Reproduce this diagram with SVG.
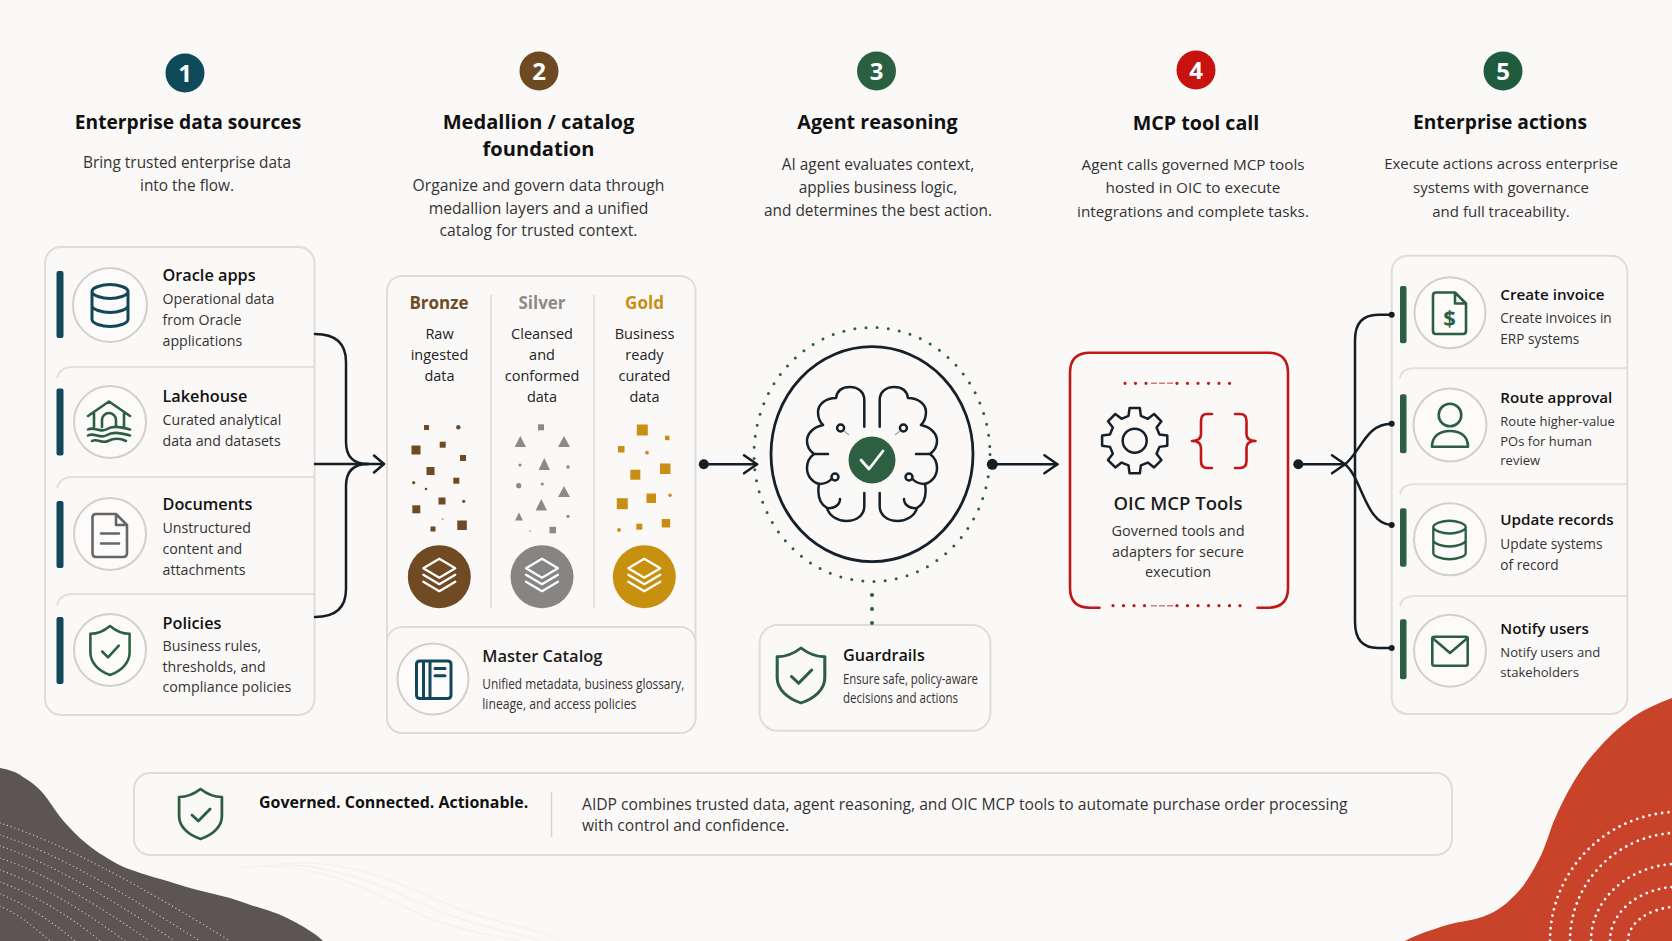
<svg xmlns="http://www.w3.org/2000/svg" xmlns:xlink="http://www.w3.org/1999/xlink" width="1672" height="941" viewBox="0 0 1672 941">
<style>
text{font-family:"Open Sans","Noto Sans","Liberation Sans",sans-serif;fill:#1c1c1c}
.num{font-size:24px;font-weight:700;fill:#fff;text-anchor:middle}
.h{font-size:19.700px;font-weight:700;fill:#111;text-anchor:middle}
.sub{font-size:15.400px;fill:#333;text-anchor:middle}
#step-1 .h,#step-5 .h{font-size:19.200px}
#step-2 .h{font-size:20.100px}
#step-2 .sub{font-size:15.700px}
#step-4 .sub{font-size:15.300px}
#step-5 .sub{font-size:15px}
#oic-tools .sub{font-size:14.500px}
#summary .sub{font-size:15.650px}
.t{font-size:15.200px;font-weight:600;fill:#111}
.b{font-size:14.200px;fill:#333}
#sources~g[id^="src"] .t{font-size:16.300px}
#guardrails .t{font-size:16.200px}
#summary .t{font-size:15.950px;font-weight:700}
#act-invoice .b{font-size:13.600px}
#act-approval .b{font-size:13px}
#act-update .b{font-size:13.700px}
#act-notify .b{font-size:13.100px}
.panel{fill:#fbf9f8;stroke:#dfdcd9;stroke-width:2}
.sep{fill:none;stroke:#e3e0dd;stroke-width:2}
.ring{fill:#fcfbfa;stroke:#d2d0cd;stroke-width:2}
.blue{fill:none;stroke:#12475a;stroke-width:3;stroke-linecap:round;stroke-linejoin:round}
.green{fill:none;stroke:#2c5f42;stroke-width:2.600;stroke-linecap:round;stroke-linejoin:round}
.gray{fill:none;stroke:#666;stroke-width:2.600;stroke-linecap:round;stroke-linejoin:round}
.wire{fill:none;stroke:#151d26;stroke-width:2.500;stroke-linecap:round}
.ink{fill:none;stroke:#15202a;stroke-width:2.500;stroke-linecap:round;stroke-linejoin:round}
.red{fill:none;stroke:#c01818;stroke-width:2.600;stroke-linecap:round;stroke-linejoin:round}
.stack{fill:none;stroke:#fff;stroke-width:2.200;stroke-linejoin:round;stroke-linecap:round}
.med{font-size:17px;font-weight:700;text-anchor:middle}
.mb{font-size:14.500px;fill:#222;text-anchor:middle}
.wd{fill:none;stroke:#fff;stroke-width:1.300;stroke-linecap:round;stroke-dasharray:0 4;opacity:.7}
.rd{fill:none;stroke:#fff;stroke-width:2.800;stroke-linecap:round;stroke-dasharray:0 6.400}
.br{fill:#6f4a22}.si{fill:#8c8a88}.go{fill:#c98f14}
</style>
<defs>
<marker id="open" markerUnits="userSpaceOnUse" markerWidth="18" markerHeight="24" refX="15" refY="12" orient="auto"><path d="M2 3 L15 12 L2 21" fill="none" stroke="#151d26" stroke-width="2.500" stroke-linecap="round" stroke-linejoin="round"/></marker>
<marker id="open-small" markerUnits="userSpaceOnUse" markerWidth="18" markerHeight="24" refX="15" refY="12" orient="auto"><path d="M5 3.500 L15 12 L5 20.500" fill="none" stroke="#151d26" stroke-width="2.500" stroke-linecap="round" stroke-linejoin="round"/></marker>
<path id="shield" d="M0 -25C6 -20 13 -17 20 -17V2C20 13 11 21 0 25C-11 21 -20 13 -20 2V-17C-13 -17 -6 -20 0 -25ZM-8 1L-2 7L9 -5"/>
<path id="cyl" d="M-18 -14V14C-18 18 -8 21 0 21S18 18 18 14V-14M-18 -14C-18 -18 -8 -21 0 -21S18 -18 18 -14S8 -7 0 -7S-18 -10 -18 -14ZM-18 0C-18 4 -8 7 0 7S18 4 18 0"/>
<g id="layers"><path class="stack" d="M0 -18L16 -8.500L0 1L-16 -8.500Z"/><path class="stack" d="M-16 -2L0 7.500L16 -2"/><path class="stack" d="M-16 5L0 14.500L16 5"/></g>
<g id="lobe"><path class="ink" d="M-7.700 426.700V400C-7.700 392 -14 387 -22 387C-30 387 -35 391 -36 398C-46 398 -54 404 -54 412C-54 418 -52 422 -49 425C-58 427 -65 433 -65 441C-65 447 -62 451 -58 454C-62 457 -65 462 -65 468C-65 476 -60 482 -53 484C-55 496 -52 504 -45 508C-43 516 -34 521 -26 521C-15 521 -7.700 515 -7.700 506V493"/><path class="ink" d="M-44 454H-59M-40.500 479C-44 483 -48 484 -53 484M-32 499C-32 505 -38 509 -45 508"/><circle class="ink" cx="-37" cy="477" r="3.500"/><circle class="ink" cx="-31.400" cy="428" r="3.500"/><path d="M-28 431L-23 435" stroke="#aaa" stroke-width="1.500"/></g>
<clipPath id="grayclip"><path d="M0 768C10 770 17 772 23 777C33 783 40 789 46 797C54 808 60 818 69 827C76 835 84 842 92 848C102 855 114 863 126 868C144 875 162 879 180 885C202 892 224 895 245 903C262 909 277 912 291 920C304 927 315 933 323 941H0Z"/></clipPath>
</defs>

<rect width="1672" height="941" fill="#fbf9f8"/>

<!-- faint background contour lines -->
<g fill="none" stroke="#f3f1ef" stroke-width="1.200">
<path d="M240 868C300 860 350 880 400 905S490 935 520 941"/>
<path d="M260 866C320 860 370 880 420 903S500 928 540 941"/>
<path d="M280 864C340 858 390 878 440 901S520 922 560 941"/>
</g>

<!-- corner shapes -->
<g id="corner-gray">
<path d="M0 768C10 770 17 772 23 777C33 783 40 789 46 797C54 808 60 818 69 827C76 835 84 842 92 848C102 855 114 863 126 868C144 875 162 879 180 885C202 892 224 895 245 903C262 909 277 912 291 920C304 927 315 933 323 941H0Z" fill="#5b5653"/>
<g clip-path="url(#grayclip)">
<path class="wd" d="M0 823C60 842 140 885 230 941"/><path class="wd" d="M0 835C60 854 130 897 200 941"/><path class="wd" d="M0 846C55 864 120 905 175 941"/><path class="wd" d="M0 858C50 875 105 910 150 941"/><path class="wd" d="M0 870C45 886 90 915 125 941"/><path class="wd" d="M0 882C40 897 75 920 100 941"/><path class="wd" d="M0 894C30 906 55 924 75 941"/><path class="wd" d="M0 906C20 915 35 928 50 941"/>
</g>
</g>
<g id="corner-red">
<path d="M1672 698C1658 703 1645 709 1633 717C1619 727 1607 738 1597 750C1587 761 1580 771 1573 783C1565 796 1559 809 1553 823C1548 837 1544 851 1537 863C1530 876 1523 888 1513 897C1505 905 1497 911 1487 915C1474 921 1460 921 1447 925C1431 930 1418 934 1405 941H1672Z" fill="#c8432a"/>
<path class="rd" d="M1550 941A130 129 0 0 1 1672 812"/><path class="rd" d="M1570 941A110 108 0 0 1 1672 833"/><path class="rd" d="M1591 941A89 77 0 0 1 1672 864"/><path class="rd" d="M1610 941A70 54 0 0 1 1672 887"/><path class="rd" d="M1628 941A52 34 0 0 1 1672 907"/>
</g>

<!-- step headers -->
<g id="step-1"><circle cx="185" cy="73" r="19.500" fill="#0f4a5a"/><text class="num" x="185" y="82">1</text><text class="h" x="188" y="129">Enterprise data sources</text><text class="sub" x="187" y="168">Bring trusted enterprise data</text><text class="sub" x="187" y="191">into the flow.</text></g>
<g id="step-2"><circle cx="539" cy="71" r="19.500" fill="#6d4a22"/><text class="num" x="539" y="80">2</text><text class="h" x="538.500" y="129">Medallion / catalog</text><text class="h" x="538.500" y="156">foundation</text><text class="sub" x="538.500" y="191">Organize and govern data through</text><text class="sub" x="538.500" y="214">medallion layers and a unified</text><text class="sub" x="538.500" y="236">catalog for trusted context.</text></g>
<g id="step-3"><circle cx="876.500" cy="71" r="19.500" fill="#2a6041"/><text class="num" x="876.500" y="80">3</text><text class="h" x="877.500" y="129">Agent reasoning</text><text class="sub" x="878" y="170">AI agent evaluates context,</text><text class="sub" x="878" y="193">applies business logic,</text><text class="sub" x="878" y="216">and determines the best action.</text></g>
<g id="step-4"><circle cx="1196" cy="70" r="19.500" fill="#c8120f"/><text class="num" x="1196" y="79">4</text><text class="h" x="1196" y="130">MCP tool call</text><text class="sub" x="1193" y="170">Agent calls governed MCP tools</text><text class="sub" x="1193" y="193">hosted in OIC to execute</text><text class="sub" x="1193" y="217">integrations and complete tasks.</text></g>
<g id="step-5"><circle cx="1503" cy="71" r="19.500" fill="#1f5c3f"/><text class="num" x="1503" y="80">5</text><text class="h" x="1500" y="129">Enterprise actions</text><text class="sub" x="1501" y="169">Execute actions across enterprise</text><text class="sub" x="1501" y="193">systems with governance</text><text class="sub" x="1501" y="217">and full traceability.</text></g>

<!-- data sources -->
<g id="sources">
<rect class="panel" x="45" y="247" width="269.500" height="468" rx="16"/>
<path class="sep" d="M57 378Q60 367 72 367H314M57 488Q60 477 72 477H314M57 605Q60 594 72 594H314"/>
<g fill="#12475a"><rect x="56.500" y="271" width="7" height="67" rx="2"/><rect x="56.500" y="388.500" width="7" height="67" rx="2"/><rect x="56.500" y="501" width="7" height="67" rx="2"/><rect x="56.500" y="617" width="7" height="67" rx="2"/></g>
</g>
<g id="src-oracle"><circle class="ring" cx="110" cy="305" r="37"/><use href="#cyl" class="blue" transform="translate(110 305.500)"/><text class="t" x="162.500" y="281">Oracle apps</text><text class="b" x="162.500" y="304">Operational data</text><text class="b" x="162.500" y="324.500">from Oracle</text><text class="b" x="162.500" y="345.500">applications</text></g>
<g id="src-lakehouse"><circle class="ring" cx="110" cy="422" r="36"/><path class="green" d="M88 416L109 401.500L130 416M94 413V427M124 413V427M102 427V420A7 7 0 0 1 116 420V427M88 429.500C94 426 100 433 106 429.500S118 426 130 429.500M88 435.500C94 432 100 439 106 435.500S118 432 130 435.500M92 441C97 438 102 444 108 441S120 438 126 441"/><text class="t" x="162.500" y="402">Lakehouse</text><text class="b" x="162.500" y="425">Curated analytical</text><text class="b" x="162.500" y="445.500">data and datasets</text></g>
<g id="src-documents"><circle class="ring" cx="110" cy="534" r="36"/><path class="gray" d="M116 514H96Q92.500 514 92.500 518V553Q92.500 557 96 557H123Q127 557 127 553V525ZM116 514V525H127M101 533.500H119M101 543.500H119"/><text class="t" x="162.500" y="510">Documents</text><text class="b" x="162.500" y="533">Unstructured</text><text class="b" x="162.500" y="553.500">content and</text><text class="b" x="162.500" y="574.500">attachments</text></g>
<g id="src-policies"><circle class="ring" cx="110" cy="650" r="36"/><use href="#shield" class="green" transform="translate(110 650.500) scale(.98)"/><text class="t" x="162.500" y="628.500">Policies</text><text class="b" x="162.500" y="651">Business rules,</text><text class="b" x="162.500" y="671.500">thresholds, and</text><text class="b" x="162.500" y="692">compliance policies</text></g>

<!-- medallion layers and catalog -->
<g id="medallion">
<rect class="panel" x="387" y="276" width="308.500" height="457" rx="15"/>
<path d="M491 295V608M594 295V608" stroke="#e0dedb" stroke-width="1.600"/>
</g>
<g id="bronze"><text class="med" x="439" y="309" style="fill:#6f4a22">Bronze</text><text class="mb" x="439.500" y="339">Raw</text><text class="mb" x="439.500" y="360">ingested</text><text class="mb" x="439.500" y="381">data</text>
<g class="br"><rect x="424" y="425" width="5" height="5"/><circle cx="458.300" cy="427.300" r="2.200"/><rect x="411.500" y="445.500" width="9" height="9"/><rect x="439.700" y="441.700" width="6" height="6"/><rect x="460" y="455" width="6" height="6"/><rect x="426.500" y="467" width="8" height="8"/><rect x="453.300" y="477.700" width="6" height="6"/><circle cx="413.700" cy="482.700" r="1.600"/><circle cx="426" cy="489" r="1.300"/><rect x="438.500" y="497.500" width="7" height="7"/><rect x="412.300" y="505.300" width="8" height="8"/><circle cx="463.700" cy="501.300" r="1.600"/><circle cx="442.700" cy="519" r="1" opacity=".5"/><rect x="430.500" y="526.500" width="5" height="5"/><rect x="457.300" y="520.500" width="9.500" height="9.500"/></g>
<circle cx="439.300" cy="576.700" r="31.500" fill="#6f4a22"/><use href="#layers" x="439.300" y="576.700"/></g>
<g id="silver"><text class="med" x="542" y="309" style="fill:#8c8a88">Silver</text><text class="mb" x="542" y="339">Cleansed</text><text class="mb" x="542" y="360">and</text><text class="mb" x="542" y="381">conformed</text><text class="mb" x="542" y="402">data</text>
<g class="si"><rect x="538" y="424.300" width="6" height="6"/><path d="M520.300 436L526 447H514.600ZM564 436L570 447H558ZM544.300 458L550 470H538.600ZM564 486L570 497H558ZM541.300 499L547 510.500H535.600ZM519 512.500L523 520.500H515Z"/><circle cx="520" cy="465" r="1.600"/><circle cx="568" cy="467" r="1.800"/><circle cx="518.700" cy="485.700" r="2.600"/><circle cx="542.300" cy="484" r="1.600"/><circle cx="568" cy="516.300" r="1.600"/><circle cx="530" cy="531" r="1" opacity=".6"/><rect x="549.500" y="526.800" width="6.500" height="6.500"/></g>
<circle cx="542" cy="576.700" r="31.500" fill="#868584"/><use href="#layers" x="542" y="576.700"/></g>
<g id="gold"><text class="med" x="644.500" y="309" style="fill:#c98f14">Gold</text><text class="mb" x="644.500" y="339">Business</text><text class="mb" x="644.500" y="360">ready</text><text class="mb" x="644.500" y="381">curated</text><text class="mb" x="644.500" y="402">data</text>
<g class="go"><rect x="636.800" y="424.500" width="11" height="11"/><rect x="665" y="435.700" width="4.500" height="4.500"/><rect x="618" y="446" width="6.500" height="6.500"/><circle cx="647" cy="452.700" r="1.900"/><rect x="630.300" y="469.700" width="10" height="10"/><rect x="660" y="463.500" width="10.500" height="10.500"/><rect x="646.500" y="493.500" width="9.500" height="9.500"/><rect x="616.800" y="498.200" width="11" height="11"/><circle cx="670" cy="495.300" r="1.800"/><rect x="636.300" y="523.700" width="6" height="6"/><rect x="661.700" y="519" width="8.500" height="8.500"/><circle cx="619" cy="530" r="1.900"/></g>
<circle cx="644.300" cy="576.700" r="31.500" fill="#c8900f"/><use href="#layers" x="644.300" y="576.700"/></g>
<g id="master-catalog">
<rect class="panel" x="387" y="627" width="308.500" height="106" rx="15"/>
<circle class="ring" cx="433" cy="679" r="35.500"/>
<path class="blue" d="M420 661H447.500Q451 661 451 664V695Q451 698.500 447.500 698.500H420Q416.500 698.500 416.500 695V664Q416.500 661 420 661ZM423.500 661V698.500M430 661V698.500M435 668.500H445M435 675.700H445"/>
<text x="482.300" y="662" font-size="16.500" font-weight="600" fill="#111">Master Catalog</text>
<text class="b" x="482.300" y="689" textLength="202" lengthAdjust="spacingAndGlyphs">Unified metadata, business glossary,</text>
<text class="b" x="482.300" y="709.300" textLength="154" lengthAdjust="spacingAndGlyphs">lineage, and access policies</text>
</g>

<!-- agent reasoning -->
<g id="agent">
<ellipse cx="872" cy="454.500" rx="118" ry="127" fill="none" stroke="#2d5a45" stroke-width="3" stroke-linecap="round" stroke-dasharray="0 11.200"/>
<ellipse cx="872" cy="454.200" rx="101" ry="107.500" fill="none" stroke="#15202a" stroke-width="2.800"/>
<use href="#lobe" transform="translate(872 0)"/><use href="#lobe" transform="translate(872 0) scale(-1 1)"/>
<circle cx="872" cy="460" r="23.500" fill="#2c6040"/>
<path d="M861 460L869 469L883 451" fill="none" stroke="#fff" stroke-width="2.800" stroke-linecap="round" stroke-linejoin="round"/>
</g>
<g id="guardrails">
<rect class="panel" x="759.600" y="625" width="230.800" height="105.700" rx="18"/>
<use href="#shield" class="green" transform="translate(801 675.500) scale(1.19 1.1)"/>
<text class="t" x="843" y="660.700">Guardrails</text>
<text class="b" x="843" y="684" textLength="135" lengthAdjust="spacingAndGlyphs">Ensure safe, policy-aware</text>
<text class="b" x="843" y="702.700" textLength="115" lengthAdjust="spacingAndGlyphs">decisions and actions</text>
</g>

<!-- OIC tools -->
<g id="oic-tools">
<path class="red" d="M1099.500 607.700H1090Q1070 607.700 1070 588V372.700Q1070 352.700 1090 352.700H1268Q1288 352.700 1288 372.700V588Q1288 607.700 1268 607.700H1257.500"/>
<path d="M1125 383.300H1150M1177 383.300H1232" stroke="#c01818" stroke-width="3.200" stroke-linecap="round" stroke-dasharray="0 10.500"/>
<path d="M1151 383.300H1176" stroke="#d97a70" stroke-width="1.500" stroke-dasharray="6 2"/>
<path d="M1113 605.700H1150M1177 605.700H1244" stroke="#c01818" stroke-width="3.200" stroke-linecap="round" stroke-dasharray="0 10.500"/>
<path d="M1151 605.700H1176" stroke="#d97a70" stroke-width="1.500" stroke-dasharray="6 2"/>
<path class="ink" transform="translate(1134.700 440.700)" d="M-5.160 -32.590L5.160 -32.590L6.170 -24.740L13.130 -21.860L19.400 -26.700L26.700 -19.400L21.860 -13.130L24.740 -6.170L32.590 -5.160L32.590 5.160L24.740 6.170L21.860 13.130L26.700 19.400L19.400 26.700L13.130 21.860L6.170 24.740L5.160 32.590L-5.160 32.590L-6.170 24.740L-13.130 21.860L-19.400 26.700L-26.700 19.400L-21.860 13.130L-24.740 6.170L-32.590 5.160L-32.590 -5.160L-24.740 -6.170L-21.860 -13.130L-26.700 -19.400L-19.400 -26.700L-13.130 -21.860L-6.170 -24.740Z"/>
<circle class="ink" cx="1134.700" cy="440.700" r="12"/>
<path class="red" d="M1212 414H1207Q1201 414 1201 421V434Q1201 441 1192 441Q1201 441 1201 448V461Q1201 468 1207 468H1212M1235 414H1240Q1246.500 414 1246.500 421V434Q1246.500 441 1255.500 441Q1246.500 441 1246.500 448V461Q1246.500 468 1240 468H1235"/>
<text x="1178" y="510" font-size="18.500" font-weight="600" fill="#111" text-anchor="middle">OIC MCP Tools</text>
<text class="sub" x="1178" y="535.700">Governed tools and</text>
<text class="sub" x="1178" y="556.700">adapters for secure</text>
<text class="sub" x="1178" y="577.300">execution</text>
</g>

<!-- enterprise actions -->
<g id="actions">
<rect class="panel" x="1391.700" y="255.700" width="235.600" height="458.300" rx="16"/>
<path class="sep" d="M1400 378Q1402 368.300 1414 368.300H1627M1400 494Q1402 484.300 1414 484.300H1627M1400 606Q1402 596 1414 596H1627"/>
<g fill="#2c5f42"><rect x="1400" y="286" width="6.500" height="57.300" rx="2"/><rect x="1400" y="394.300" width="6.500" height="59" rx="2"/><rect x="1400" y="508.300" width="6.500" height="58.400" rx="2"/><rect x="1400" y="619.300" width="6.500" height="60" rx="2"/></g>
</g>
<g id="act-invoice"><circle class="ring" cx="1450" cy="312.700" r="35.500"/><path class="green" d="M1455 292.500H1436Q1433 292.500 1433 295.500V331Q1433 334 1436 334H1463Q1466 334 1466 331V303.500ZM1455 292.500V303.500H1466"/><text x="1449.500" y="326" font-size="22" font-weight="700" text-anchor="middle" style="fill:#2c5f42">$</text><text class="t" x="1500.300" y="300">Create invoice</text><text class="b" x="1500.300" y="323.300">Create invoices in</text><text class="b" x="1500.300" y="344">ERP systems</text></g>
<g id="act-approval"><circle class="ring" cx="1450" cy="425" r="36.500"/><circle class="green" cx="1450" cy="415" r="11.300"/><path class="green" d="M1432 446.700C1432 436 1440 431 1450 431S1468 436 1468 446.700Z"/><text class="t" x="1500.300" y="403.300">Route approval</text><text class="b" x="1500.300" y="426">Route higher-value</text><text class="b" x="1500.300" y="445.700">POs for human</text><text class="b" x="1500.300" y="465">review</text></g>
<g id="act-update"><circle class="ring" cx="1450" cy="539.300" r="36"/><use href="#cyl" class="green" transform="translate(1449.500 540) scale(.9 .92)"/><text class="t" x="1500.300" y="525">Update records</text><text class="b" x="1500.300" y="549.300">Update systems</text><text class="b" x="1500.300" y="570">of record</text></g>
<g id="act-notify"><circle class="ring" cx="1450" cy="650.700" r="36"/><rect class="green" x="1432.300" y="636.700" width="35.400" height="29" rx="2"/><path class="green" d="M1432.500 638L1450 653L1467.500 638"/><text class="t" x="1500.300" y="634">Notify users</text><text class="b" x="1500.300" y="656.700">Notify users and</text><text class="b" x="1500.300" y="677.300">stakeholders</text></g>

<!-- summary band -->
<g id="summary">
<rect class="panel" x="134" y="773" width="1318" height="82" rx="16"/>
<use href="#shield" class="green" transform="translate(200.500 814) scale(1.07 1)"/>
<text class="t" x="259" y="807.700">Governed. Connected. Actionable.</text>
<path d="M551.500 792V837" stroke="#d6d4d1" stroke-width="1.500"/>
<text class="sub" x="582" y="810" style="text-anchor:start">AIDP combines trusted data, agent reasoning, and OIC MCP tools to automate purchase order processing</text>
<text class="sub" x="582" y="831" style="text-anchor:start">with control and confidence.</text>
</g>

<!-- connectors -->
<g id="connectors">
<path class="wire" d="M315 334C338 334 346 345 346 362V442Q346 464 368 464"/>
<path class="wire" d="M315 617C338 617 346 606 346 589V486Q346 464 368 464"/>
<path class="wire" d="M315 464H384" marker-end="url(#open-small)"/>
<path class="wire" d="M704 464.300H757" marker-end="url(#open)"/>
<circle cx="703.800" cy="464.300" r="5" fill="#151d26"/>
<path d="M872 595V624" stroke="#2d5a45" stroke-width="4" stroke-linecap="round" stroke-dasharray="0 14"/>
<path class="wire" d="M992 464.300H1057.400" marker-end="url(#open)"/>
<circle cx="992.300" cy="464.300" r="5.500" fill="#151d26"/>
<path class="wire" d="M1298 464.300H1345" marker-end="url(#open)"/>
<circle cx="1298.300" cy="464.300" r="5" fill="#151d26"/>
<path class="wire" d="M1391.700 314.700H1378Q1355 314.700 1355 340V622Q1355 648 1378 648H1391.700"/>
<path class="wire" d="M1345 464.300C1362 450 1366 423.700 1391.700 423.700"/>
<path class="wire" d="M1345 464.300C1362 478 1366 525 1391.700 525"/>
<g fill="#151d26"><circle cx="1391.700" cy="314.700" r="3"/><circle cx="1391.700" cy="423.700" r="3"/><circle cx="1391.700" cy="525" r="3"/><circle cx="1391.700" cy="648" r="3"/></g>
</g>
</svg>
